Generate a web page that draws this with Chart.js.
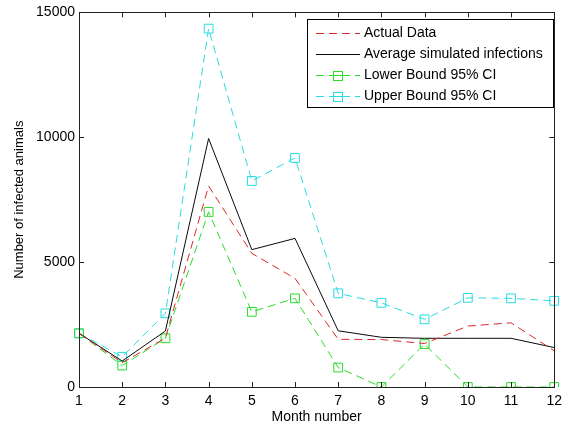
<!DOCTYPE html>
<html>
<head>
<meta charset="utf-8">
<script src="https://cdn.jsdelivr.net/npm/chart.js@4/dist/chart.umd.min.js"></script>
<style>
html,body{margin:0;padding:0;background:#fff;}
#wrap{width:568px;height:431px;position:relative;}
</style>
</head>
<body>
<div id="wrap"><canvas id="c" width="568" height="431"></canvas></div>
<script>
const months = ['1','2','3','4','5','6','7','8','9','10','11','12'];
const actualData = [2150, 970, 1960, 8050, 5350, 4350, 1910, 1900, 1740, 2440, 2570, 1450];
const averageSimulated = [2150, 1040, 2240, 9950, 5500, 5950, 2250, 1990, 1950, 1950, 1950, 1580];
const lowerBound = [2150, 860, 1950, 7010, 3010, 3550, 780, 0, 1720, 0, 0, 0];
const upperBound = [2150, 1210, 2950, 14350, 8250, 9170, 3750, 3370, 2710, 3570, 3550, 3450];
const yTicks = [0, 5000, 10000, 15000];
const seriesNames = ['Actual Data', 'Average simulated infections', 'Lower Bound 95% CI', 'Upper Bound 95% CI'];

const FONT = '"Liberation Sans", Arial, sans-serif';
const RED = 'rgb(220,40,40)', BLACK = 'rgb(10,10,10)', GREEN = 'rgb(40,220,40)', CYAN = 'rgb(40,220,225)';
const COLORS = [RED, BLACK, GREEN, CYAN];
const DASHES = [[8, 5], [], [8, 5], [8, 5]];
const MARKERS = [false, false, true, true];
const AXIS = '#222222';

const boxPlugin = {
  id: 'boxPlugin',
  afterDraw(chart) {
    const {ctx, chartArea: a, scales: {x, y}} = chart;
    ctx.save();
    ctx.strokeStyle = AXIS;
    ctx.lineWidth = 1;
    ctx.setLineDash([]);
    ctx.strokeRect(Math.round(a.left) + 0.5, Math.round(a.top) + 0.5, Math.round(a.right - a.left), Math.round(a.bottom - a.top));
    const tl = 5;
    ctx.beginPath();
    months.forEach((m, i) => {
      const px = Math.round(x.getPixelForValue(i)) + 0.5;
      ctx.moveTo(px, a.bottom); ctx.lineTo(px, a.bottom - tl);
      ctx.moveTo(px, a.top); ctx.lineTo(px, a.top + tl);
    });
    yTicks.forEach(v => {
      const py = Math.round(y.getPixelForValue(v)) + 0.5;
      ctx.moveTo(a.left, py); ctx.lineTo(a.left + tl, py);
      ctx.moveTo(a.right, py); ctx.lineTo(a.right - tl, py);
    });
    ctx.stroke();

    // legend
    const lx = 307, ly = 19, lw = 246, lh = 88;
    ctx.fillStyle = '#fff';
    ctx.fillRect(lx, ly, lw, lh);
    ctx.strokeStyle = '#000';
    ctx.strokeRect(lx + 0.5, ly + 0.5, lw, lh);
    ctx.font = '14px ' + FONT;
    ctx.textBaseline = 'middle';
    ctx.textAlign = 'left';
    for (let i = 0; i < seriesNames.length; i++) {
      const cy = Math.round(33 + i * 21);
      ctx.fillStyle = COLORS[i];
      const d = DASHES[i];
      if (d.length) {
        let xx = 316;
        while (xx < 360) {
          ctx.fillRect(xx, cy, Math.min(d[0], 360 - xx), 1);
          xx += d[0] + d[1];
        }
      } else {
        ctx.fillRect(316, cy, 44, 1);
      }
      if (MARKERS[i]) {
        ctx.fillStyle = '#fff';
        ctx.fillRect(334, cy - 4, 8, 8);
        ctx.fillStyle = COLORS[i];
        ctx.fillRect(333, cy - 4, 10, 1);
        ctx.fillRect(333, cy + 5, 10, 1);
        ctx.fillRect(333, cy - 4, 1, 10);
        ctx.fillRect(342, cy - 4, 1, 10);
        ctx.fillRect(334, cy, 8, 1);
      }
      ctx.fillStyle = '#000';
      ctx.fillText(seriesNames[i], 364, cy + 0.5);
    }
    ctx.restore();
  }
};

const mk = (i, data) => ({
  label: seriesNames[i], data,
  borderColor: COLORS[i],
  backgroundColor: 'rgba(0,0,0,0)',
  borderWidth: 1,
  borderDash: DASHES[i],
  tension: 0,
  pointStyle: 'rect',
  pointRadius: MARKERS[i] ? 6.2 : 0,
  pointHoverRadius: MARKERS[i] ? 6.2 : 0,
  pointBorderColor: COLORS[i],
  pointBackgroundColor: 'rgba(0,0,0,0)',
  pointBorderWidth: 1,
  fill: false
});

new Chart(document.getElementById('c'), {
  type: 'line',
  data: {
    labels: months,
    datasets: [
      mk(0, actualData),
      mk(1, averageSimulated),
      mk(2, lowerBound),
      mk(3, upperBound)
    ]
  },
  options: {
    responsive: false,
    animation: false,
    devicePixelRatio: 1,
    layout: {padding: {left: 0, top: 12, right: 10, bottom: 0}},
    plugins: {legend: {display: false}, tooltip: {enabled: false}},
    scales: {
      x: {
        type: 'category',
        offset: false,
        grid: {display: false, drawTicks: false},
        border: {display: false},
        ticks: {color: '#000', font: {family: FONT, size: 14}, padding: 6, maxRotation: 0, autoSkip: false},
        title: {display: true, text: 'Month number', color: '#000', font: {family: FONT, size: 14}, padding: {top: 0, bottom: 5}},
        afterFit(s) { s.height = 44; }
      },
      y: {
        min: 0, max: 15000,
        afterBuildTicks(s) { s.ticks = yTicks.map(v => ({value: v})); },
        grid: {display: false, drawTicks: false},
        border: {display: false},
        ticks: {color: '#000', font: {family: FONT, size: 14}, padding: 4, callback: v => String(v)},
        title: {display: true, text: 'Number of infected animals', color: '#000', font: {family: FONT, size: 13}, padding: {top: 12, bottom: 0}},
        afterFit(s) { s.width = 79; }
      }
    }
  },
  plugins: [boxPlugin]
});
</script>
</body>
</html>
